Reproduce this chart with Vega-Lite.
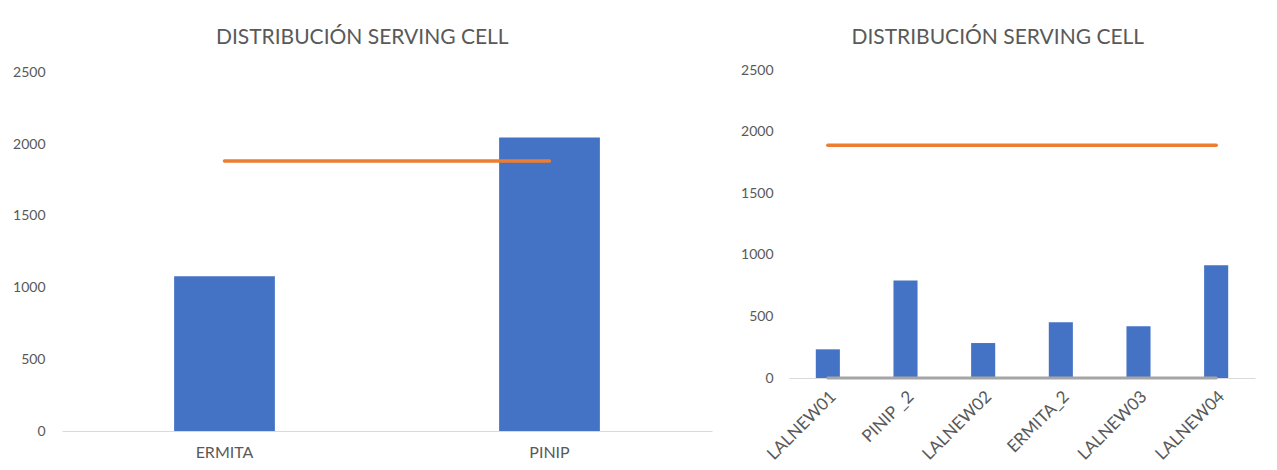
{
  "$schema": "https://vega.github.io/schema/vega-lite/v6.json",
  "padding": {"left": 12, "top": 27, "right": 10, "bottom": 0},
  "spacing": 28,
  "background": "white",
  "config": {
    "font": "Lato",
    "view": {"stroke": null},
    "axis": {"labelFont": "Lato", "labelColor": "#595959", "labelFontSize": 14, "ticks": false, "grid": false, "title": null, "domainColor": "#D9D9D9"},
    "title": {"font": "Lato", "fontSize": 21, "fontWeight": "normal", "color": "#595959", "anchor": "middle", "frame": "bounds", "offset": 10}
  },
  "datasets": {
    "left": [
      {"cell": "ERMITA", "count": 1078, "ref": 1882},
      {"cell": "PINIP", "count": 2045, "ref": 1882}
    ],
    "right": [
      {"cell": "LALNEW01", "count": 233, "ref": 1891, "base": 0},
      {"cell": "PINIP _2", "count": 793, "ref": 1891, "base": 0},
      {"cell": "LALNEW02", "count": 284, "ref": 1891, "base": 0},
      {"cell": "ERMITA_2", "count": 452, "ref": 1891, "base": 0},
      {"cell": "LALNEW03", "count": 420, "ref": 1891, "base": 0},
      {"cell": "LALNEW04", "count": 917, "ref": 1891, "base": 0}
    ]
  },
  "hconcat": [
    {
      "title": "DISTRIBUCIÓN SERVING CELL",
      "width": 650,
      "height": 373,
      "data": {"name": "left"},
      "layer": [
        {
          "mark": {"type": "bar", "color": "#4472C4"},
          "encoding": {
            "x": {"field": "cell", "type": "nominal", "sort": null, "scale": {"paddingInner": 0.69, "paddingOuter": 0.345}, "axis": {"labelAngle": 0, "labelPadding": 13, "labelFontSize": 16}},
            "y": {"field": "count", "type": "quantitative", "scale": {"domain": [0, 2500]}, "axis": {"values": [0, 500, 1000, 1500, 2000, 2500], "format": "d", "domain": false, "labelPadding": 17}}
          }
        },
        {
          "mark": {"type": "line", "color": "#ED7D31", "strokeWidth": 3.5, "strokeCap": "round"},
          "encoding": {
            "x": {"field": "cell", "type": "nominal", "sort": null},
            "y": {"field": "ref", "type": "quantitative"}
          }
        }
      ]
    },
    {
      "title": "DISTRIBUCIÓN SERVING CELL",
      "width": 466,
      "height": 320,
      "data": {"name": "right"},
      "layer": [
        {
          "mark": {"type": "bar", "color": "#4472C4"},
          "encoding": {
            "x": {"field": "cell", "type": "nominal", "sort": null, "scale": {"paddingInner": 0.69, "paddingOuter": 0.345}, "axis": {"labelAngle": -45, "labelPadding": 10, "labelFontSize": 17}},
            "y": {"field": "count", "type": "quantitative", "scale": {"domain": [0, 2500]}, "axis": {"values": [0, 500, 1000, 1500, 2000, 2500], "format": "d", "domain": false, "labelPadding": 16}}
          }
        },
        {
          "mark": {"type": "line", "color": "#A5A5A5", "strokeWidth": 3, "strokeCap": "round"},
          "encoding": {
            "x": {"field": "cell", "type": "nominal", "sort": null},
            "y": {"field": "base", "type": "quantitative"}
          }
        },
        {
          "mark": {"type": "line", "color": "#ED7D31", "strokeWidth": 3.5, "strokeCap": "round"},
          "encoding": {
            "x": {"field": "cell", "type": "nominal", "sort": null},
            "y": {"field": "ref", "type": "quantitative"}
          }
        }
      ]
    }
  ]
}
